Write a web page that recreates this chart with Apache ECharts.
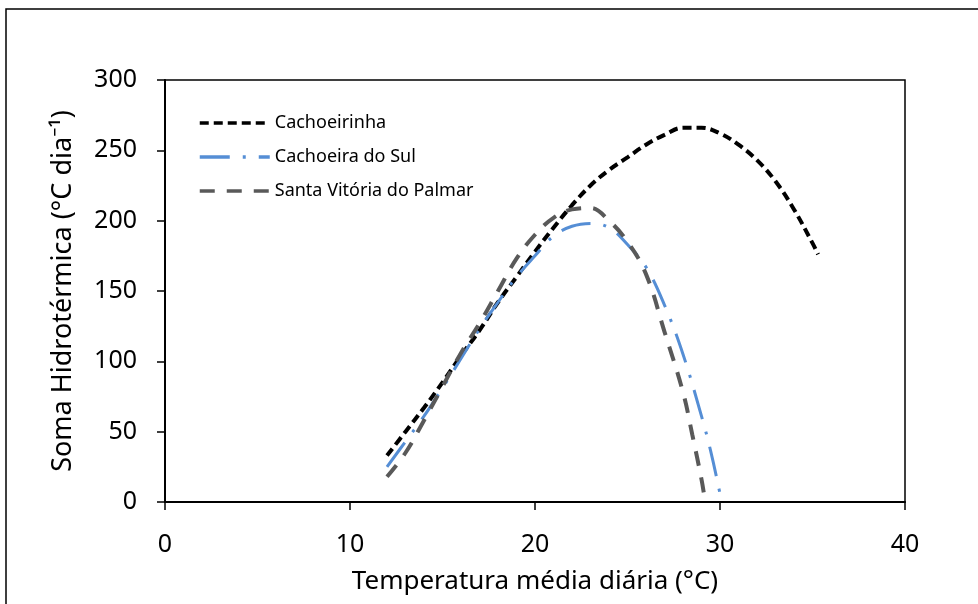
<!DOCTYPE html>
<html>
<head>
<meta charset="utf-8">
<script src="https://cdn.jsdelivr.net/npm/echarts@6/dist/echarts.min.js"></script>
<style>
html, body { margin: 0; padding: 0; background: #fff; }
#chart { width: 978px; height: 604px; }
</style>
</head>
<body>
<div id="chart"></div>
<script>
// valores
var seriesNames = ['Cachoeirinha', 'Cachoeira do Sul', 'Santa Vitória do Palmar']

var tempCachoeirinha = [12, 13, 14, 15, 16, 17, 18, 19, 20, 21, 22, 23, 24, 25, 26, 27, 28, 29, 30, 31, 32, 33, 34, 35, 35.3]
var somaCachoeirinha = [33, 50, 67, 85, 104, 122, 142, 160, 178, 195, 211, 225, 236, 245, 254, 261, 266, 266, 262, 254, 243, 228, 208, 184, 176]

var tempCachoeiraSul = [12, 13, 14, 15, 16, 17, 18, 19, 20, 21, 22, 23, 24, 25, 26, 27, 28, 29, 29.5, 30, 30.1]
var somaCachoeiraSul = [25, 43, 61, 81, 102, 123, 142, 160, 175, 189, 196, 198, 195, 183, 167, 140, 105, 61, 36, 6, 0]

var tempSantaVitoria = [12, 13, 14, 15, 16, 17, 18, 19, 20, 21, 22, 23, 24, 25, 26, 27, 28, 28.5, 29, 29.2]
var somaSantaVitoria = [18, 35, 58, 82, 106, 127, 150, 173, 190, 202, 208, 209, 200, 185, 162, 121, 78, 48, 16, 0]

var xTicks = [0, 10, 20, 30, 40]
var yTicks = [0, 50, 100, 150, 200, 250, 300]

function pares(xs, ys) {
    var out = []
    for (var i = 0; i < xs.length; i++) {
        out.push([xs[i], ys[i]])
    }
    return out
}

var fonte = 'Noto Sans'
var chart = echarts.init(document.getElementById('chart'))

chart.setOption({
    animation: false,
    backgroundColor: '#fff',
    graphic: [{
        type: 'rect',
        shape: { x: 6, y: 9, width: 1000, height: 700 },
        style: { fill: 'none', stroke: '#000', lineWidth: 1.5 },
        silent: true
    }],
    grid: {
        left: 165, right: 73, top: 80, bottom: 102,
        show: true, borderColor: '#000', borderWidth: 1.5
    },
    legend: {
        orient: 'vertical',
        left: 198, top: 114, padding: 0,
        itemWidth: 70, itemHeight: 18, itemGap: 16,
        // só a linha tracejada, sem o marcador
        itemStyle: { color: 'rgba(0,0,0,0)', borderColor: 'rgba(0,0,0,0)', borderWidth: 0 },
        lineStyle: { width: 3.5 },
        textStyle: { fontFamily: fonte, fontSize: 18, color: '#000' },
        data: seriesNames
    },
    xAxis: {
        type: 'value',
        min: xTicks[0], max: xTicks[xTicks.length - 1], interval: 10,
        name: 'Temperatura média diária (°C)',
        nameLocation: 'middle', nameGap: 67,
        nameTextStyle: { fontFamily: fonte, fontSize: 26, color: '#000' },
        axisLine: { lineStyle: { color: '#000', width: 2 } },
        axisTick: { show: true, length: 8, lineStyle: { color: '#000', width: 1.5 } },
        axisLabel: { margin: 30, fontFamily: fonte, fontSize: 25, color: '#000' },
        splitLine: { show: false }
    },
    yAxis: {
        type: 'value',
        min: yTicks[0], max: yTicks[yTicks.length - 1], interval: 50,
        name: 'Soma Hidrotérmica (°C dia⁻¹)',
        nameLocation: 'middle', nameGap: 88,
        nameTextStyle: { fontFamily: fonte, fontSize: 27, color: '#000' },
        axisLine: { show: true, lineStyle: { color: '#000', width: 2 } },
        axisTick: { show: true, length: 8, lineStyle: { color: '#000', width: 1.5 } },
        axisLabel: { margin: 28, fontFamily: fonte, fontSize: 25, color: '#000' },
        splitLine: { show: false }
    },
    series: [{
        name: seriesNames[0],
        type: 'line',
        smooth: 0.4,
        symbol: 'none',
        data: pares(tempCachoeirinha, somaCachoeirinha),
        itemStyle: { color: '#000' },
        lineStyle: { color: '#000', width: 4, type: [9, 5] }
    }, {
        name: seriesNames[1],
        type: 'line',
        smooth: 0.4,
        symbol: 'none',
        data: pares(tempCachoeiraSul, somaCachoeiraSul),
        itemStyle: { color: '#558ed5' },
        lineStyle: { color: '#558ed5', width: 3, type: [30, 13, 3, 13] }
    }, {
        name: seriesNames[2],
        type: 'line',
        smooth: 0.4,
        symbol: 'none',
        data: pares(tempSantaVitoria, somaSantaVitoria),
        itemStyle: { color: '#595959' },
        lineStyle: { color: '#595959', width: 4, type: [15, 12] }
    }]
})
</script>
</body>
</html>
